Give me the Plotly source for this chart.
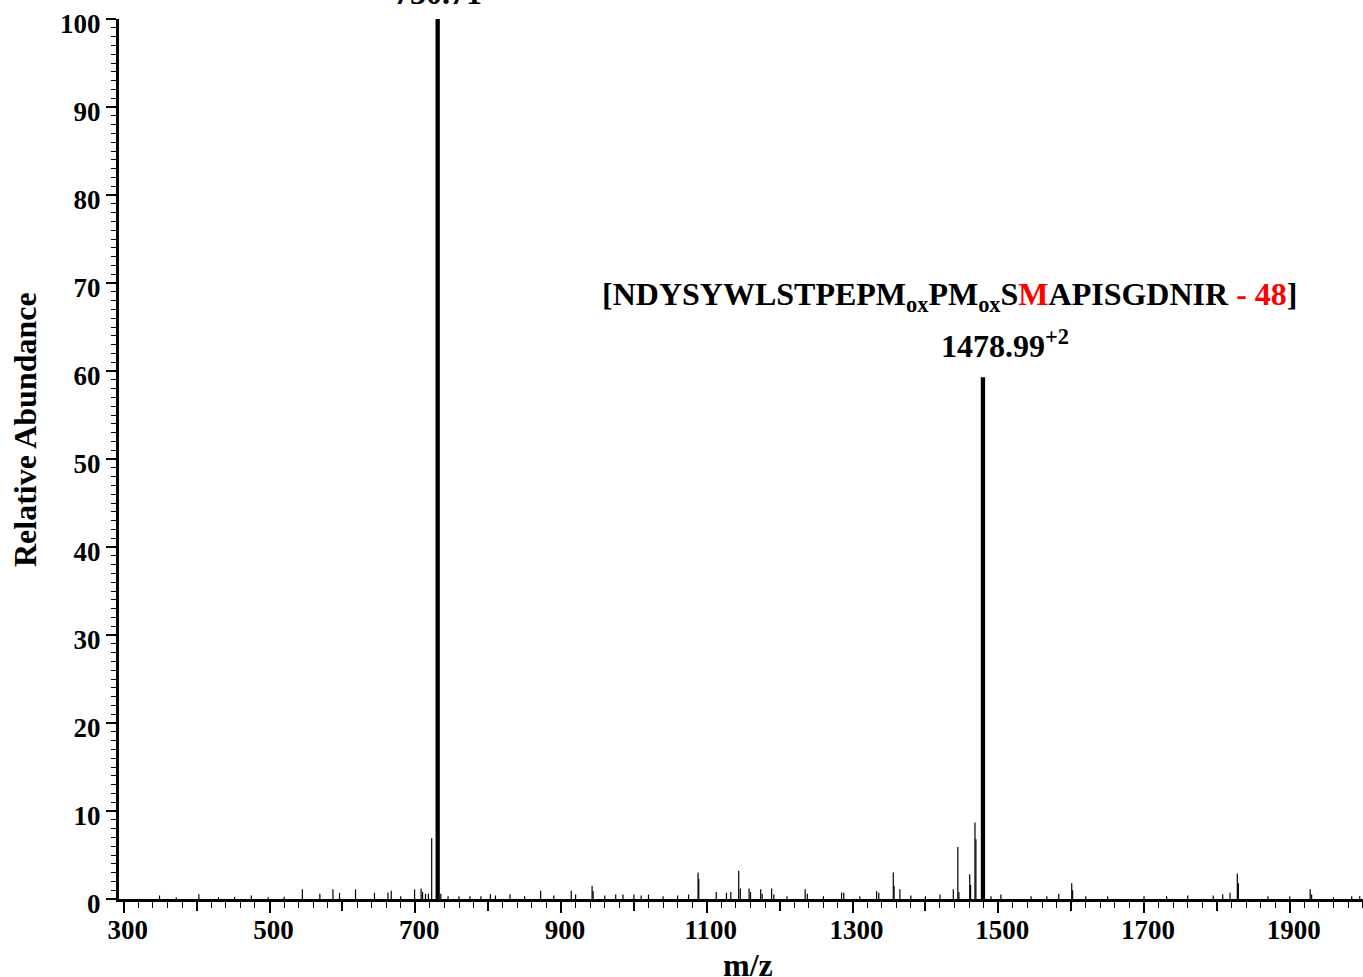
import plotly.graph_objects as go

# Labelled precursor peaks (m/z, relative abundance)
main_mz = [730.71, 1478.99]
main_int = [100.0, 59.3]

# Remaining fragment / noise peaks
minor_mz = [
    349, 372, 403, 430, 452, 475, 498, 520, 545, 569, 587, 596, 618, 644,
    662.5, 667, 680, 699, 708, 710, 714, 718, 722.5, 735, 745, 760, 775,
    790, 803, 810, 830, 850, 872, 890, 914, 920, 942.6, 944, 960, 975, 985,
    1000, 1010, 1020, 1040, 1060, 1075, 1088, 1089, 1113, 1127, 1133,
    1143.8, 1146, 1158, 1160, 1174, 1176, 1189, 1192, 1210, 1235, 1238,
    1260, 1285, 1288, 1310, 1333, 1336, 1355.9, 1357, 1365, 1380, 1400,
    1420, 1438.3, 1444.5, 1446, 1460.8, 1462, 1468, 1469.3, 1481, 1490,
    1503.6, 1545, 1566.6, 1583, 1600.8, 1602, 1620, 1650, 1700, 1731,
    1760, 1795, 1808, 1818, 1828, 1829.5, 1870, 1900, 1928, 1930, 1960,
    1985, 1996,
]
minor_int = [
    0.4, 0.2, 0.55, 0.2, 0.25, 0.4, 0.2, 0.25, 1.1, 0.6, 1.1, 0.7, 1.1, 0.7,
    0.75, 0.95, 0.3, 1.1, 1.2, 0.8, 0.6, 0.6, 6.9, 0.6, 0.3, 0.3, 0.3,
    0.3, 0.55, 0.4, 0.55, 0.3, 0.95, 0.4, 0.95, 0.5, 1.5, 0.9, 0.4, 0.5, 0.5,
    0.5, 0.4, 0.5, 0.3, 0.4, 0.5, 3.0, 2.3, 0.8, 0.7, 0.8,
    3.2, 1.2, 1.2, 0.8, 1.1, 0.6, 1.2, 0.5, 0.3, 1.1, 0.6,
    0.3, 0.75, 0.7, 0.3, 0.9, 0.7, 3.0, 1.5, 1.1, 0.4, 0.3,
    0.5, 1.1, 5.9, 0.8, 2.8, 1.6, 8.7, 6.8, 0.4, 0.3,
    0.5, 0.3, 0.3, 0.6, 1.8, 1.0, 0.3, 0.3, 0.3, 0.3,
    0.4, 0.4, 0.55, 0.7, 2.9, 1.8, 0.3, 0.3, 1.1, 0.5, 0.2,
    0.3, 0.3,
]

x_label_vals = list(range(300, 2000, 200))    # labelled long ticks
x_mid_vals = list(range(400, 2000, 200))      # unlabelled long ticks
y_tick_vals = list(range(0, 101, 10))
x_range = [293.4, 2000.5]

W, H = 1363, 977
ML, MR, MT, MB = 119, 0, 19, 78
PW, PH = W - ML - MR, H - MT - MB


def sticks(mz, inten):
    xs, ys = [], []
    for m, h in zip(mz, inten):
        xs += [m, m, None]
        ys += [0, h, None]
    return xs, ys


FONT = "Liberation Serif"

fig = go.Figure()
mx, my = sticks(minor_mz, minor_int)
fig.add_trace(go.Scatter(x=mx, y=my, mode="lines",
                         line=dict(color="black", width=1.2),
                         hoverinfo="skip", showlegend=False))
Mx, My = sticks(main_mz, main_int)
fig.add_trace(go.Scatter(x=Mx, y=My, mode="lines",
                         line=dict(color="black", width=4.3),
                         hoverinfo="skip", showlegend=False))

tick_font = dict(family=FONT, size=27, color="black", weight="bold")
title_font = dict(family=FONT, size=32, color="black", weight="bold")

fig.update_layout(
    width=W, height=H,
    margin=dict(l=ML, r=MR, t=MT, b=MB),
    paper_bgcolor="white", plot_bgcolor="white",
    showlegend=False,
    xaxis=dict(
        range=x_range, showgrid=False, zeroline=False, automargin=False,
        showline=True, linecolor="black", linewidth=3,
        tickmode="array", tickvals=x_label_vals,
        ticks="outside", ticklen=11, tickwidth=1.6, tickcolor="black",
        minor=dict(tick0=300, dtick=20, ticks="outside", ticklen=6,
                   tickwidth=1.3, tickcolor="black"),
        tickfont=tick_font, ticklabelshift=4, ticklabelstandoff=-6,
    ),
    xaxis2=dict(
        range=x_range, overlaying="x", anchor="y", side="bottom",
        showgrid=False, zeroline=False, showline=False, automargin=False,
        tickmode="array", tickvals=x_mid_vals, showticklabels=False,
        ticks="outside", ticklen=11, tickwidth=1.6, tickcolor="black",
    ),
    yaxis=dict(
        range=[0, 100], showgrid=False, zeroline=False, automargin=False,
        showline=True, linecolor="black", linewidth=3,
        tickmode="array", tickvals=y_tick_vals,
        ticks="outside", ticklen=10, tickwidth=1.6, tickcolor="black",
        minor=dict(tick0=0, dtick=1, ticks="outside", ticklen=5,
                   tickwidth=1.3, tickcolor="black"),
        tickfont=tick_font, ticklabelshift=5, ticklabelstandoff=0,
    ),
)

# keep the second x axis active so its ticks are drawn
fig.add_trace(go.Scatter(x=[x_range[0]], y=[0], xaxis="x2", yaxis="y",
                         mode="markers", marker=dict(opacity=0),
                         hoverinfo="skip", showlegend=False))

# Axis titles
fig.add_annotation(x=(748 - ML) / PW, y=(H - MB - 965) / PH,
                   xref="paper", yref="paper", text="m/z", showarrow=False,
                   xanchor="center", yanchor="middle", font=title_font)
fig.add_annotation(x=(25 - ML) / PW, y=(H - MB - 430) / PH,
                   xref="paper", yref="paper", text="Relative Abundance",
                   textangle=-90, showarrow=False,
                   xanchor="center", yanchor="middle", font=title_font)

ann_font = dict(family=FONT, size=32, color="black", weight="bold")

fig.add_annotation(x=main_mz[0], y=main_int[0], xref="x", yref="y",
                   text=f"{main_mz[0]:.2f}", showarrow=False,
                   xanchor="center", yanchor="bottom", yshift=6,
                   font=ann_font)
fig.add_annotation(x=main_mz[1], y=main_int[1], xref="x", yref="y",
                   text=f"{main_mz[1]:.2f}<sup>+2</sup>", showarrow=False,
                   xanchor="left", yanchor="bottom", xshift=-44, yshift=11,
                   font=ann_font)
fig.add_annotation(
    x=1433.7, y=68.45, xref="x", yref="y",
    text=("[NDYSYWLSTPEPM<sub>ox</sub>PM<sub>ox</sub>S"
          "<span style='color:#ff0000'>M</span>APISGDNIR "
          "<span style='color:#ff0000'>- 48</span>]"),
    showarrow=False, xanchor="center", yanchor="middle",
    font=ann_font,
)

fig.write_html("out.html")
